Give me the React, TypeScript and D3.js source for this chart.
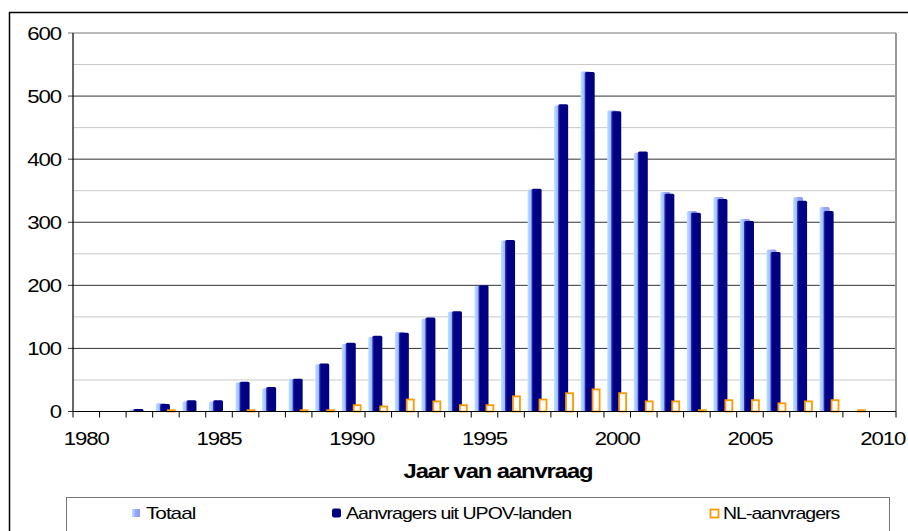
import { useMemo } from "react";
import * as d3 from "d3";

// categories (one slot per year, 1980..2010)
const years = d3.range(1980, 2011);
const yearLabels = [1980, 1985, 1990, 1995, 2000, 2005, 2010];

// series (null = no bar)
const totaal = [null, null, 3, 13, 16, 16, 46, 37, 51, 75, 107, 118, 126, 147, 158, 199, 271, 352, 485, 539, 477, 410, 348, 318, 340, 305, 257, 340, 324, null, null];
const upov = [null, null, 4, 12, 18, 18, 47, 39, 52, 76, 109, 120, 125, 149, 159, 200, 272, 353, 487, 538, 476, 412, 345, 315, 337, 302, 253, 334, 318, null, null];
const nl = [null, null, null, 2, null, null, 2, null, 2, 2, 10, 8, 19, 16, 10, 10, 24, 19, 29, 35, 29, 16, 16, 2, 18, 18, 13, 16, 18, 2, null];

const yTicks = [0, 100, 200, 300, 400, 500, 600];
const yMinor = [50, 150, 250, 350, 450, 550];

const W = 908;
const H = 531;
const plot = { left: 73, right: 896, top: 33, bottom: 411.5 };
const font = "'Liberation Sans', Arial, sans-serif";

function SText({ x, y, sx = 1.2, anchor = "middle", size = 18.5, weight = "normal", ls = -0.9, children }: any) {
  return (
    <text
      transform={`translate(${x},${y}) scale(${sx},1)`}
      textAnchor={anchor}
      fontSize={size}
      fontWeight={weight}
      fontFamily={font}
      letterSpacing={ls}
      fill="#000"
    >
      {children}
    </text>
  );
}

export default function App() {
  const x = useMemo(
    () => d3.scaleBand<number>().domain(years).range([plot.left, plot.right]).padding(0),
    []
  );
  const y = useMemo(() => d3.scaleLinear().domain([0, 600]).range([plot.bottom, plot.top]), []);

  const bw = x.bandwidth();

  return (
    <svg
      width={W}
      height={H}
      style={{ position: "absolute", left: 0, top: 0, background: "#fff" }}
    >
      <defs>
        <linearGradient id="gTot" x1="0" x2="1" y1="0" y2="0">
          <stop offset="0" stopColor="#b8e4ff" />
          <stop offset="0.25" stopColor="#a6c8ff" />
          <stop offset="0.5" stopColor="#9aa4f8" />
          <stop offset="1" stopColor="#9696ff" />
        </linearGradient>
        <linearGradient id="gUp" x1="0" x2="1" y1="0" y2="0">
          <stop offset="0" stopColor="#3a3ab0" />
          <stop offset="0.2" stopColor="#000088" />
          <stop offset="1" stopColor="#000080" />
        </linearGradient>
      </defs>

      {/* outer chart frame */}
      <line x1={9} x2={W} y1={12.5} y2={12.5} stroke="#000" strokeWidth={1.5} />
      <line x1={9.5} x2={9.5} y1={12} y2={H} stroke="#000" strokeWidth={1.5} />

      {/* minor gridlines */}
      {yMinor.map((v) => (
        <line key={v} x1={plot.left} x2={plot.right} y1={y(v)} y2={y(v)} stroke="#c8c8c8" strokeWidth={1} />
      ))}
      {/* major gridlines */}
      {yTicks.map((v) => (
        <line key={v} x1={plot.left - 5} x2={plot.right} y1={y(v)} y2={y(v)} stroke={v === 600 ? "#777" : "#333"} strokeWidth={1} />
      ))}
      {/* right frame of plot area */}
      <line x1={plot.right} x2={plot.right} y1={plot.top} y2={plot.bottom} stroke="#999" strokeWidth={2} />

      {/* bars */}
      {years.map((yr, i) => {
        const c = (x(yr) ?? 0) + bw / 2;
        const t = totaal[i];
        const u = upov[i];
        const n = nl[i];
        return (
          <g key={yr}>
            {t != null && (
              <rect x={c - 10} y={y(t)} width={10} height={y(0) - y(t)} rx={1.5} fill="url(#gTot)" />
            )}
            {u != null && (
              <rect x={c - 6} y={y(u)} width={10} height={y(0) - y(u)} rx={1.5} fill="url(#gUp)" />
            )}
            {n != null && (
              <rect x={c + 1.9} y={y(n)} width={7} height={Math.max(1, y(0) - y(n))} fill="#fff" stroke="#ff9900" strokeWidth={1.8} />
            )}
          </g>
        );
      })}

      {/* axes */}
      <line x1={plot.left} x2={plot.left} y1={plot.top} y2={plot.bottom} stroke="#000" strokeWidth={1.2} />
      <line x1={plot.left} x2={plot.right} y1={plot.bottom} y2={plot.bottom} stroke="#000" strokeWidth={1.2} />
      {[...years, 2011].map((yr, i) => {
        const px = plot.left + i * bw;
        return <line key={yr} x1={px} x2={px} y1={plot.bottom} y2={plot.bottom + 6} stroke="#000" strokeWidth={1} />;
      })}

      {yTicks.map((v) => (
        <SText key={v} x={61} y={y(v) + 6.5} anchor="end">
          {v}
        </SText>
      ))}
      {yearLabels.map((yr) => (
        <SText key={yr} x={(x(yr) ?? 0) + bw / 2} y={445}>
          {yr}
        </SText>
      ))}

      <SText x={498} y={478} size={19.5} weight="bold" sx={1.22} ls={-0.9}>
        Jaar van aanvraag
      </SText>

      {/* legend */}
      <rect x={66.5} y={497.5} width={823} height={60} fill="#fff" stroke="#777" strokeWidth={1} />
      <rect x={132} y={509} width={8} height={8} fill="url(#gTot)" />
      <SText x={146} y={519} size={16} sx={1.3} ls={-0.8} anchor="start">Totaal</SText>
      <rect x={332} y={508.5} width={9} height={9} rx={2} fill="#000080" />
      <SText x={346} y={519} size={16} sx={1.22} ls={-0.8} anchor="start">Aanvragers uit UPOV-landen</SText>
      <rect x={710.5} y={509.5} width={8} height={8} fill="#fff" stroke="#ff9900" strokeWidth={1.8} />
      <SText x={723} y={519} size={16} sx={1.22} ls={-0.8} anchor="start">NL-aanvragers</SText>
    </svg>
  );
}
